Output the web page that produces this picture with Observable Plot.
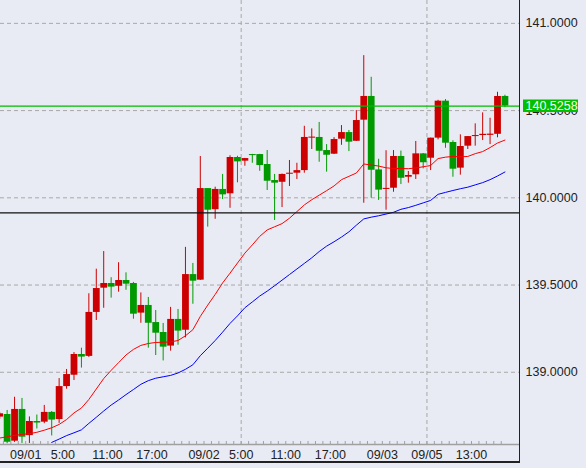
<!DOCTYPE html>
<html>
<head>
<meta charset="utf-8">
<script src="https://cdn.jsdelivr.net/npm/d3@7"></script>
<script src="https://cdn.jsdelivr.net/npm/@observablehq/plot@0.6"></script>
<style>
  html, body { margin: 0; padding: 0; background: #e9ebf4; }
  #wrap { position: relative; width: 586px; height: 468px; }
  #border { position: absolute; left: 0; top: 0; width: 520px; height: 463px; box-sizing: border-box;
            border-right: 1.5px solid #222; border-bottom: 2px solid #222; pointer-events: none; }
</style>
</head>
<body>
<div id="wrap"><div id="border"></div></div>
<script>
// Hourly candles, index 0 = 08/31 20:00 ... index 68 = 09/05 17:00
const open  = [138.743,138.758,138.605,138.787,138.637,138.718,138.714,138.770,138.729,138.918,
               138.983,139.102,139.091,139.343,139.482,139.509,139.493,139.526,139.509,139.339,
               139.383,139.285,139.228,139.150,139.303,139.241,139.560,139.528,140.053,139.932,
               140.048,140.023,140.231,140.210,140.248,140.248,140.191,140.099,140.089,140.135,
               140.141,140.156,140.342,140.346,140.271,140.250,140.336,140.374,140.324,140.445,
               140.581,140.160,140.048,140.055,140.237,140.118,140.132,140.252,140.227,140.342,
               140.554,140.317,140.170,140.296,140.351,140.357,140.358,140.364,140.581];
const high  = [138.770,138.781,138.857,138.850,138.744,138.755,138.810,138.775,138.964,139.016,
               139.113,139.138,139.450,139.591,139.692,139.542,139.628,139.570,139.515,139.455,
               139.429,139.354,139.280,139.372,139.360,139.716,139.624,140.237,140.053,140.061,
               140.134,140.241,140.238,140.226,140.249,140.249,140.271,140.134,140.136,140.214,
               140.198,140.410,140.395,140.432,140.305,140.345,140.414,140.386,140.500,140.815,
               140.691,140.221,140.270,140.271,140.268,140.151,140.323,140.254,140.342,140.559,
               140.563,140.327,140.361,140.351,140.424,140.487,140.456,140.605,140.588];
const low   = [138.730,138.590,138.598,138.592,138.592,138.675,138.705,138.635,138.707,138.903,
               138.953,139.024,139.085,139.297,139.367,139.425,139.459,139.470,139.304,139.281,
               139.138,139.096,139.065,139.121,139.155,139.197,139.390,139.526,139.832,139.877,
               139.990,139.940,140.086,140.181,140.198,140.152,140.042,139.870,139.944,140.065,
               140.105,140.141,140.277,140.204,140.147,140.248,140.301,140.265,140.323,139.969,
               139.998,139.985,139.929,140.032,140.076,140.084,140.105,140.166,140.156,140.332,
               140.284,140.118,140.130,140.277,140.296,140.328,140.305,140.344,140.517];
const close = [138.762,138.599,138.787,138.628,138.718,138.709,138.770,138.726,138.918,138.987,
               139.102,139.087,139.343,139.480,139.509,139.488,139.526,139.505,139.333,139.383,
               139.281,139.224,139.144,139.303,139.236,139.560,139.522,140.053,139.929,140.048,
               140.017,140.231,140.206,140.225,140.242,140.185,140.095,140.084,140.134,140.141,
               140.156,140.346,140.348,140.267,140.244,140.334,140.374,140.319,140.443,140.581,
               140.158,140.044,140.054,140.237,140.112,140.128,140.252,140.201,140.342,140.554,
               140.313,140.164,140.294,140.351,140.357,140.364,140.365,140.581,140.5258];
// short moving average (red)
const maShort = [138.623,138.630,138.638,138.644,138.648,138.656,138.668,138.682,138.701,138.729,
                 138.767,138.795,138.844,138.904,138.964,139.011,139.055,139.099,139.131,139.154,
                 139.165,139.171,139.172,139.174,139.182,139.209,139.244,139.320,139.385,139.446,
                 139.512,139.568,139.626,139.683,139.730,139.779,139.816,139.834,139.852,139.883,
                 139.921,139.959,139.989,140.015,140.041,140.068,140.104,140.123,140.142,140.194,
                 140.188,140.182,140.172,140.168,140.168,140.167,140.171,140.178,140.185,140.225,
                 140.233,140.237,140.235,140.237,140.253,140.265,140.288,140.314,140.331];
// long moving average (blue), starts at index 7
const maLong  = [null,null,null,null,null,null,null,138.598,138.617,138.637,
                 138.653,138.670,138.707,138.742,138.778,138.812,138.841,138.872,138.901,138.931,
                 138.952,138.966,138.974,138.982,138.996,139.017,139.043,139.095,139.138,139.182,
                 139.230,139.280,139.323,139.370,139.403,139.437,139.465,139.496,139.528,139.560,
                 139.592,139.624,139.656,139.692,139.723,139.748,139.775,139.805,139.843,139.879,
                 139.889,139.897,139.907,139.917,139.934,139.944,139.957,139.971,139.985,140.020,
                 140.031,140.042,140.052,140.061,140.074,140.087,140.104,140.125,140.148];
const xTickIdx    = [4, 9, 15, 21, 28, 33, 39, 45, 52, 58, 64];
const xTickLabels = ["09/01","5:00","11:00","17:00","09/02","5:00","11:00","17:00","09/03","09/05","13:00"];
const xGridIdx    = [33, 58];
const yTicks      = [139.0, 139.5, 140.0, 140.5, 141.0];
const yDomain     = [138.586, 141.131];
const lastPrice   = 140.5258;
const refLevel    = 139.914;

const candles = open.map((o, i) => ({i, o, h: high[i], l: low[i], c: close[i]}));
const maS = maShort.map((v, i) => ({i, v}));
const maL = maLong.map((v, i) => ({i, v})).filter(d => d.v != null);
const ticks = xTickIdx.map((i, k) => ({x: i - 0.5, label: xTickLabels[k]}));
const hourTicks = candles.map(d => d.i - 0.5);
const colorOf = d => d.c >= d.o ? "#cc0000" : "#009900";

const boxSymbol = { draw(ctx) { ctx.moveTo(3.5, -6.5); ctx.lineTo(58.5, -6.5); ctx.lineTo(58.5, 6); ctx.lineTo(3.5, 6); ctx.closePath(); } };

const chart = Plot.plot({
  width: 586, height: 468,
  marginTop: 0, marginLeft: 0, marginRight: 67, marginBottom: 24,
  style: {background: "#e9ebf4", fontFamily: "Liberation Sans, Arial, sans-serif", fontSize: "12.5px", color: "#222"},
  x: {domain: [0.108, 69.96], axis: null},
  y: {domain: yDomain, axis: null},
  marks: [
    Plot.ruleY(yTicks, {stroke: "#a8a8a8", strokeDasharray: "4,3"}),
    Plot.ruleX(xGridIdx, {x: d => d - 0.5, stroke: "#a8a8a8", strokeDasharray: "4,3"}),
    Plot.ruleX(candles, {x: "i", y1: "l", y2: "h", stroke: colorOf, strokeWidth: 1}),
    Plot.ruleX(candles, {x: "i", y1: "o", y2: "c", stroke: colorOf, strokeWidth: 6.8}),
    Plot.line(maS, {x: "i", y: "v", stroke: "#ff0000", strokeWidth: 1}),
    Plot.line(maL, {x: "i", y: "v", stroke: "#0000ff", strokeWidth: 1}),
    Plot.ruleY([refLevel], {stroke: "#111", strokeWidth: 1.2}),
    Plot.ruleY([lastPrice], {stroke: "#00bb00", strokeWidth: 1.2}),
    Plot.ruleY([yDomain[0]], {stroke: "#a0a0a0", strokeWidth: 1.5}),
    Plot.ruleX(hourTicks, {x: d => d, stroke: "#a0a0a0", insetTop: 441}),
    Plot.text(ticks, {x: "x", text: "label", frameAnchor: "bottom", dy: 10.5, lineAnchor: "middle", fill: "#222"}),
    Plot.text(yTicks, {y: d => d, text: d => d.toFixed(4), frameAnchor: "right", dx: 6, textAnchor: "start", fill: "#222"}),
    Plot.dot([lastPrice], {y: d => d, frameAnchor: "right", symbol: boxSymbol, fill: "#00c000", stroke: "none"}),
    Plot.text([lastPrice], {y: d => d, text: d => d.toFixed(4), frameAnchor: "right", dx: 6, textAnchor: "start", fill: "#ffffff"})
  ]
});
document.getElementById("wrap").prepend(chart);
</script>
</body>
</html>
